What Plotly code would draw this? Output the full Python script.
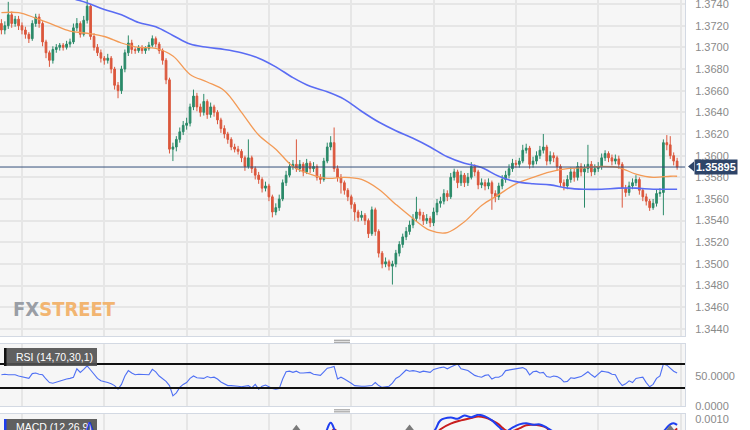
import plotly.graph_objects as go

# ---------------- DATA (prices in pips, 1 pip = 0.0001) ----------------
opens = [13722,13716,13720,13730,13722,13726,13720,13716,13712,13708,
         13722,13728,13722,13705,13695,13688,13698,13700,13702,13700,
         13703,13705,13718,13722,13712,13725,13738,13710,13700,13695,
         13690,13688,13690,13680,13665,13660,13680,13695,13704,13698,
         13697,13700,13697,13699,13702,13708,13703,13697,13688,13670,
         13606,13608,13615,13622,13628,13630,13645,13655,13645,13640,
         13650,13638,13645,13640,13633,13625,13620,13615,13608,13606,
         13604,13598,13590,13598,13588,13582,13578,13570,13572,13562,
         13548,13552,13560,13575,13582,13590,13592,13588,13592,13585,
         13593,13588,13590,13580,13578,13595,13608,13612,13588,13580,
         13575,13568,13562,13555,13548,13543,13545,13540,13528,13550,
         13530,13510,13500,13502,13498,13500,13510,13518,13525,13530,
         13536,13542,13548,13545,13540,13542,13538,13548,13556,13558,
         13565,13562,13580,13585,13575,13582,13575,13580,13590,13585,
         13573,13575,13572,13575,13565,13562,13572,13578,13582,13588,
         13593,13592,13595,13605,13607,13592,13595,13600,13605,13608,
         13595,13600,13598,13590,13575,13572,13578,13585,13580,13590,
         13585,13588,13592,13585,13588,13590,13598,13602,13598,13595,
         13597,13592,13570,13566,13572,13575,13578,13568,13562,13558,
         13552,13556,13565,13566,13612,13610,13600,13595]
highs = [13726,13724,13742,13733,13729,13729,13723,13719,13714,13725,
         13731,13731,13724,13707,13697,13701,13703,13704,13704,13706,
         13708,13722,13727,13724,13729,13744,13740,13713,13703,13698,
         13692,13694,13692,13682,13668,13683,13698,13711,13707,13700,
         13702,13702,13701,13705,13711,13710,13705,13699,13690,13672,
         13612,13618,13626,13632,13635,13648,13661,13658,13648,13657,
         13652,13649,13647,13642,13635,13628,13622,13617,13611,13609,
         13606,13600,13615,13600,13590,13585,13580,13576,13574,13564,
         13556,13564,13578,13586,13594,13596,13615,13596,13594,13597,
         13595,13594,13592,13583,13598,13612,13618,13626,13591,13583,
         13577,13570,13564,13557,13550,13549,13547,13542,13553,13552,
         13532,13512,13506,13504,13503,13513,13521,13528,13534,13540,
         13546,13562,13551,13548,13546,13544,13552,13560,13562,13569,
         13568,13584,13588,13587,13586,13584,13584,13594,13592,13587,
         13579,13578,13579,13577,13568,13575,13582,13586,13592,13597,
         13596,13598,13610,13611,13609,13599,13604,13609,13620,13610,
         13604,13603,13600,13592,13578,13582,13589,13588,13594,13593,
         13592,13610,13595,13592,13594,13602,13605,13604,13601,13601,
         13600,13594,13573,13576,13579,13582,13580,13570,13565,13560,
         13560,13569,13570,13615,13619,13618,13603,13598]
lows = [13712,13712,13717,13718,13719,13716,13712,13708,13704,13706,
        13719,13718,13701,13690,13682,13685,13695,13697,13697,13698,
        13700,13703,13715,13709,13710,13722,13707,13697,13692,13686,
        13684,13685,13676,13661,13653,13657,13677,13692,13694,13694,
        13695,13694,13694,13697,13700,13700,13694,13684,13666,13602,
        13595,13604,13612,13619,13624,13627,13642,13641,13636,13637,
        13634,13635,13636,13629,13621,13616,13611,13605,13603,13601,
        13594,13586,13588,13584,13578,13574,13566,13567,13558,13543,
        13545,13549,13558,13572,13580,13587,13585,13585,13581,13583,
        13584,13585,13577,13574,13576,13593,13605,13585,13576,13565,
        13564,13558,13551,13540,13539,13540,13536,13524,13526,13526,
        13506,13496,13497,13494,13481,13497,13507,13515,13522,13527,
        13533,13539,13541,13536,13537,13534,13535,13545,13552,13555,
        13558,13560,13577,13570,13572,13571,13572,13578,13581,13569,
        13570,13568,13569,13550,13557,13559,13569,13575,13579,13585,
        13589,13589,13593,13602,13588,13589,13592,13597,13602,13591,
        13592,13594,13586,13571,13568,13569,13575,13576,13577,13581,
        13552,13584,13581,13582,13585,13587,13595,13594,13591,13592,
        13588,13552,13562,13563,13569,13572,13564,13558,13554,13549,
        13550,13553,13562,13545,13605,13597,13591,13587]
closes = [13716,13720,13730,13722,13726,13720,13716,13712,13708,13722,
          13728,13722,13705,13695,13688,13698,13700,13702,13700,13703,
          13705,13718,13722,13712,13725,13738,13710,13700,13695,13690,
          13688,13690,13680,13665,13660,13680,13695,13704,13698,13697,
          13700,13697,13699,13702,13708,13703,13697,13688,13670,13606,
          13608,13615,13622,13628,13630,13645,13655,13645,13640,13650,
          13638,13645,13640,13633,13625,13620,13615,13608,13606,13604,
          13598,13590,13598,13588,13582,13578,13570,13572,13562,13548,
          13552,13560,13575,13582,13590,13592,13588,13592,13585,13593,
          13588,13590,13580,13578,13595,13608,13612,13588,13580,13575,
          13568,13562,13555,13548,13543,13545,13540,13528,13550,13530,
          13510,13500,13502,13498,13500,13510,13518,13525,13530,13536,
          13542,13548,13545,13540,13542,13538,13548,13556,13558,13565,
          13562,13580,13585,13575,13582,13575,13580,13590,13585,13573,
          13575,13572,13575,13565,13562,13572,13578,13582,13588,13593,
          13592,13595,13605,13607,13592,13595,13600,13605,13608,13595,
          13600,13598,13590,13575,13572,13578,13585,13580,13590,13585,
          13588,13592,13585,13588,13590,13598,13602,13598,13595,13597,
          13592,13570,13566,13572,13575,13578,13568,13562,13558,13552,
          13556,13565,13566,13612,13610,13600,13595,13589.5]

ma_orange_idx = [0,5,10,15,20,25,30,35,40,45,50,55,60,65,70,75,80,85,90,95,
                 100,105,110,115,120,125,130,135,140,145,150,155,160,165,170,
                 175,180,185,190,195,197]
ma_orange = [13732,13732,13727,13721,13715,13713,13710,13704,13700,13699,
             13692,13675,13668,13660,13640,13619,13606,13590,13583,13579,
             13580,13578,13569,13555,13542,13531,13529,13539,13554,13564,
             13574,13580,13585,13588,13589,13590,13589,13583,13580,13581,13581]

ma_blue_idx = [15,20,25,30,35,40,45,50,55,60,65,70,75,80,85,90,95,100,105,110,
               115,120,125,130,135,140,145,150,155,160,165,170,175,180,185,
               190,195,197]
ma_blue = [13753,13746,13741,13735,13730,13723,13719,13711,13703,13700,
           13698,13695,13690,13682,13672,13664,13659,13652,13641,13631,
           13623,13616,13608,13599,13593,13589,13581,13576,13574,13573,
           13570,13569,13569,13570,13570,13569,13569,13569]

rsi = [52,53,52,52,52,50,49,48,46,54, 55,53,52,45,39,38,40,42,43,45,
       46,48,62,56,61,67,60,52,46,42, 41,39,37,34,28,36,50,59,55,52,
       53,53,52,52,61,57,50,46,41,34, 17,22,31,36,39,46,50,47,47,46,
       49,47,48,45,40,37,34,34,34,33, 32,33,34,30,36,28,33,35,32,29,
       28,29,45,57,58,56,58,55,55,56, 56,53,52,51,57,63,64,66,45,48,
       45,42,38,34,33,33,33,33,34,39, 34,31,32,33,38,46,49,55,60,58,
       59,58,56,58,57,56,61,63,64,65, 62,65,67,70,62,61,59,55,51,49,
       48,51,52,45,48,48,51,59,60,61, 62,64,64,61,52,57,58,55,56,49,
       48,50,49,46,40,41,47,46,48,49, 53,57,52,48,53,58,57,56,53,52,
       41,34,37,42,39,46,47,48,39,32, 36,46,50,70,68,63,58,55]

macd_idx = [0,90,94,96,98,102,120,126,128,131,133,135,137,139,141,143,145,147,
            149,151,153,155,157,159,161,170,190,193,195,196,197]
macd = [0.0003,0.0004,0.0006,0.00092,0.0006,0.0004,0.0005,0.0007,0.00098,0.00105,
        0.00102,0.00110,0.00106,0.00112,0.00108,0.00098,0.00082,0.0007,
        0.00080,0.00088,0.00091,0.00087,0.00088,0.00080,0.0007,0.0005,0.0004,
        0.0007,0.00088,0.00091,0.00087]
signal_idx = [0,95,97,99,100,126,128,131,134,137,139,141,143,145,146,148,151,153,
              155,157,159,160,190,197]
signal = [0.0003,0.0006,0.00075,0.0006,0.0005,0.0006,0.00076,0.00090,0.00098,
          0.00104,0.00108,0.00105,0.00098,0.00088,0.0008,0.0007,0.00078,0.00086,
          0.00087,0.00085,0.00079,0.0007,0.0004,0.00078]
hist_idx = [86, 119, 195]
hist = [0.00077, 0.00078, 0.00077]

price_ticks = [1.3440,1.3460,1.3480,1.3500,1.3520,1.3540,1.3560,1.3580,
               1.3600,1.3620,1.3640,1.3660,1.3680,1.3700,1.3720,1.3740]
day_ticks = [6,30,54,78,102,126,150,174,198]
last_price = 1.35895
rsi_levels = [70, 30]

# ---------------- STYLE ----------------
PW, PH = 685, 430
def px(x): return x / PW
def py(y): return 1 - y / PH

GREEN, RED = "#2b8a69", "#db573c"
ORANGE, BLUE = "#f39a55", "#5a6cf3"
GRID = "#e6e6e6"
BORDER = "#d3d9e3"
TICKFONT = dict(family="Liberation Sans, Arial, sans-serif", size=11, color="#8a8a8a")

x = list(range(len(closes)))
p = lambda arr: [v / 10000 for v in arr]

fig = go.Figure()
fig.add_trace(go.Candlestick(
    x=x, open=p(opens), high=p(highs), low=p(lows), close=p(closes),
    increasing=dict(line=dict(color=GREEN, width=1), fillcolor=GREEN),
    decreasing=dict(line=dict(color=RED, width=1), fillcolor=RED),
    whiskerwidth=0, xaxis="x", yaxis="y", hoverinfo="skip", showlegend=False))
fig.add_trace(go.Scatter(x=ma_orange_idx, y=p(ma_orange), mode="lines",
                         line=dict(color=ORANGE, width=1.3, shape="spline"),
                         xaxis="x", yaxis="y", hoverinfo="skip"))
fig.add_trace(go.Scatter(x=ma_blue_idx, y=p(ma_blue), mode="lines",
                         line=dict(color=BLUE, width=1.6, shape="spline"),
                         xaxis="x", yaxis="y", hoverinfo="skip"))
fig.add_trace(go.Scatter(x=x, y=rsi, mode="lines",
                         line=dict(color="#4f70f4", width=1.1),
                         xaxis="x2", yaxis="y2", hoverinfo="skip"))
fig.add_trace(go.Scatter(x=signal_idx, y=signal, mode="lines",
                         line=dict(color="#c81e1e", width=2, shape="spline"),
                         xaxis="x3", yaxis="y3", hoverinfo="skip"))
fig.add_trace(go.Scatter(x=macd_idx, y=macd, mode="lines",
                         line=dict(color="#1f3ff0", width=2, shape="spline"),
                         xaxis="x3", yaxis="y3", hoverinfo="skip"))
fig.add_trace(go.Scatter(x=hist_idx, y=hist, mode="markers",
                         marker=dict(symbol="triangle-up", size=8, color="#7a7a7a"),
                         xaxis="x3", yaxis="y3", hoverinfo="skip", cliponaxis=True))

xr = [-0.41, 199.3]
xcommon = dict(range=xr, tickvals=day_ticks, showticklabels=False, showgrid=True,
               gridcolor=GRID, gridwidth=1.5, zeroline=False, showline=True,
               linecolor=BORDER, linewidth=1, mirror=True, ticks="", automargin=False)
ycommon = dict(side="right", showline=True, linecolor=BORDER, linewidth=1, mirror=True,
               zeroline=False, ticks="outside", ticklen=7, tickcolor="rgba(0,0,0,0)",
               tickfont=TICKFONT, automargin=False, ticklabeloverflow="allow")

fig.update_layout(
    width=750, height=430, margin=dict(l=0, r=65, t=0, b=0, autoexpand=False),
    paper_bgcolor="white", plot_bgcolor="#f6f6f6", showlegend=False,
    xaxis=dict(domain=[0, 1], anchor="y", rangeslider=dict(visible=False), **xcommon),
    xaxis2=dict(domain=[0, 1], anchor="y2", matches="x", **xcommon),
    xaxis3=dict(domain=[0, 1], anchor="y3", matches="x", **xcommon),
    yaxis=dict(domain=[py(336), 1], range=[1.34335, 1.37437], anchor="x",
               tickvals=price_ticks, tickformat=".4f", showgrid=True,
               gridcolor=GRID, gridwidth=1.5, **ycommon),
    yaxis2=dict(domain=[py(406), py(344)], range=[0, 103.3], anchor="x2",
                tickvals=[0, 50], ticktext=["0.0000", "50.0000"], showgrid=False, **ycommon),
    yaxis3=dict(domain=[0, py(414)], range=[0.00074, 0.00114], anchor="x3",
                tickvals=[0.0010], ticktext=["0.0010"], showgrid=False, **ycommon),
)

shapes = []
shapes.append(dict(type="line", xref="paper", yref="y", x0=0, x1=1,
                   y0=last_price, y1=last_price, line=dict(color="#34507a", width=1)))
for lv in rsi_levels:
    shapes.append(dict(type="line", xref="paper", yref="y2", x0=0, x1=1, y0=lv, y1=lv,
                       line=dict(color="#111111", width=2)))
yl = 1 - 166.5 / PH
shapes.append(dict(type="path", xref="paper", yref="paper",
                   path=f"M {px(688)} {yl} L {px(694)} {1-161.5/PH} L {px(694)} {1-171.5/PH} Z",
                   fillcolor="#2e4468", line=dict(width=0)))
for gy in (340.3, 342.3, 409.8, 411.8):
    shapes.append(dict(type="line", xref="paper", yref="paper", x0=px(334), x1=px(350),
                       y0=py(gy), y1=py(gy), line=dict(color="#a8a8a8", width=1.3)))
shapes.append(dict(type="rect", xref="paper", yref="paper", x0=px(4), x1=px(97),
                   y0=py(366), y1=py(348), fillcolor="rgba(80,80,80,0.9)", line=dict(width=0)))
shapes.append(dict(type="rect", xref="paper", yref="paper", x0=px(4), x1=px(6.5),
                   y0=py(366), y1=py(348), fillcolor="#111111", line=dict(width=0)))
shapes.append(dict(type="rect", xref="paper", yref="paper", x0=px(4), x1=px(97),
                   y0=py(432), y1=py(419), fillcolor="rgba(80,80,80,0.9)", line=dict(width=0)))
shapes.append(dict(type="rect", xref="paper", yref="paper", x0=px(4), x1=px(6.5),
                   y0=py(432), y1=py(419), fillcolor="#1f3ff0", line=dict(width=0)))
fig.update_layout(shapes=shapes)

ann = []
ann.append(dict(xref="paper", yref="y", x=px(694), y=last_price, xanchor="left",
                yanchor="middle", text="<b>1.35895</b>", showarrow=False,
                bgcolor="#2e4468", borderpad=1,
                font=dict(family="Liberation Sans, Arial, sans-serif", size=11, color="white")))
ann.append(dict(xref="paper", yref="paper", x=px(11), y=py(309), xanchor="left",
                yanchor="middle", showarrow=False,
                text='<b><span style="color:#9a9ea5">FX</span>'
                     '<span style="color:#f2b571">STREET</span></b>',
                font=dict(family="DejaVu Sans Condensed, Liberation Sans Narrow, Arial Narrow, sans-serif",
                          size=20)))
ann.append(dict(xref="paper", yref="paper", x=px(14), y=py(357), xanchor="left",
                yanchor="middle", showarrow=False, text="RSI (14,70,30,1)",
                font=dict(family="Liberation Sans, Arial, sans-serif", size=10.5, color="white")))
ann.append(dict(xref="paper", yref="paper", x=px(14), y=py(427), xanchor="left",
                yanchor="middle", showarrow=False, text="MACD (12,26,9)",
                font=dict(family="Liberation Sans, Arial, sans-serif", size=10.5, color="white")))
ann.append(dict(xref="paper", yref="paper", x=px(90), y=py(426), xanchor="center",
                yanchor="middle", showarrow=False, text="<b>Λ</b>",
                font=dict(family="Liberation Sans, Arial, sans-serif", size=11, color="#1f3ff0")))
fig.update_layout(annotations=ann)

fig.write_html("out.html", config={"displayModeBar": False},
               post_script="document.body.style.margin='0';document.body.style.padding='0';")
